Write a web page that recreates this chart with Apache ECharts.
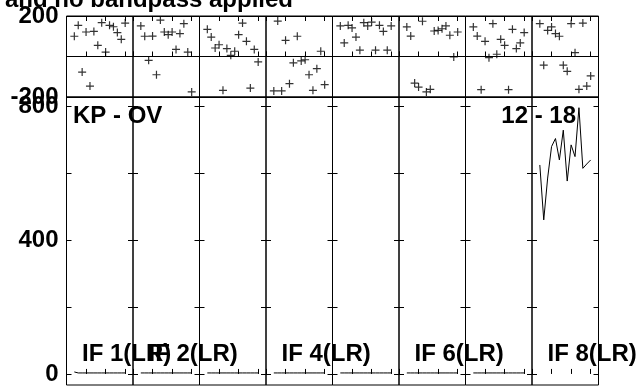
<!DOCTYPE html>
<html><head><meta charset="utf-8">
<script src="https://cdn.jsdelivr.net/npm/echarts@6/dist/echarts.min.js"></script>
<style>html,body{margin:0;padding:0;background:#fff;overflow:hidden}#c{width:638px;height:389px}</style>
</head><body><div id="c"></div><script>
// ---- data ----
const channels = [2,3,4,5,6,7,8,9,10,11,12,13,14,15];
const ifNames = ['IF 1(LR)','IF 2(LR)','IF 3(LR)','IF 4(LR)','IF 5(LR)','IF 6(LR)','IF 7(LR)','IF 8(LR)'];
const shownIfLabels = [0,1,3,5,7];
const phaseIF1 = [100,154,-77,121,-146,124,55,167,22,154,147,118,85,165];
const phaseIF2 = [151,100,-19,101,-90,180,121,108,121,35,113,162,22,-175];
const phaseIF3 = [134,96,42,58,-167,39,6,26,108,165,75,-156,35,-27];
const phaseIF4 = [-170,175,-170,80,-134,-31,100,-22,-16,-90,-167,-60,26,-139];
const phaseIF5 = [151,67,154,141,96,31,167,151,170,31,154,124,31,151];
const phaseIF6 = [146,101,-131,-151,174,-175,-162,126,129,137,151,105,-2,121];
const phaseIF7 = [146,101,-164,75,-6,162,11,85,55,-164,134,39,67,118];
const phaseIF8 = [162,-43,129,146,113,100,-43,-73,162,19,-162,165,-146,-96];
const ampIF1 = [6,3,3,3,3,3,3,3,3,3,3,3,3,3];
const ampIF2 = [3,3,3,3,3,3,3,3,3,3,3,3,3,3];
const ampIF3 = [3,3,3,3,3,3,3,3,3,3,3,3,3,3];
const ampIF4 = [3,3,3,3,3,3,3,3,3,3,3,3,3,3];
const ampIF5 = [3,3,3,3,3,3,3,3,3,3,3,3,3,3];
const ampIF6 = [3,3,3,3,3,3,3,3,3,3,3,3,3,3];
const ampIF7 = [3,3,3,3,3,3,3,3,3,3,3,3,3,3];
const ampIF8 = [624,460,585,679,703,639,728,576,684,649,795,614,627,639];
const phaseTicks = [-200,200];
const ampTickValues = [0,200,400,600,800];
const ampLabelValues = [0,400,800];
const baselineText = 'KP - OV';
const timeText = '12 - 18';
const titleText = 'Calibration applied and no bandpass applied';

const phases = [phaseIF1,phaseIF2,phaseIF3,phaseIF4,phaseIF5,phaseIF6,phaseIF7,phaseIF8];
const amps = [ampIF1,ampIF2,ampIF3,ampIF4,ampIF5,ampIF6,ampIF7,ampIF8];

// ---- layout ----
const FONT = 'bold 24px "Liberation Sans", Arial, sans-serif';
const PL = 66.5, PW = 66.5, PH_TOP = 16, PH_H = 81, AMP_TOP = 97, AMP_H = 288;
const AMP_MIN = -33, AMP_MAX = 827;
const grid = [], xAxis = [], yAxis = [], series = [];
const tickStyle = {show:true, inside:true, length:5, lineStyle:{color:'#000', width:1}};
const labelStyle = {color:'#000', fontSize:24, fontWeight:'bold', fontFamily:'"Liberation Sans", Arial, sans-serif', margin:8};

for (let i = 0; i < 8; i++) {
  const left = PL + i*PW;
  // phase grid
  const gp = grid.length;
  grid.push({left:left, top:PH_TOP, width:PW, height:PH_H, show:true, borderColor:'#000', borderWidth:1, backgroundColor:'transparent'});
  const xpB = xAxis.length;
  xAxis.push({type:'value', gridIndex:gp, position:'bottom', min:0, max:17, interval:5,
    axisLine:{show:false}, axisTick:tickStyle, axisLabel:{show:false}, splitLine:{show:false}});
  xAxis.push({type:'value', gridIndex:gp, position:'top', min:0, max:17, interval:5,
    axisLine:{show:false}, axisTick:tickStyle, axisLabel:{show:false}, splitLine:{show:false}});
  const yp = yAxis.length;
  yAxis.push({type:'value', gridIndex:gp, min:-200, max:200, interval:200,
    axisLine:{show:false}, axisTick:{show:false},
    axisLabel: i===0 ? Object.assign({}, labelStyle, {formatter: v => phaseTicks.indexOf(v) >= 0 ? String(v) : ''}) : {show:false},
    splitLine:{show:true, lineStyle:{color:'#000', width:1}}});
  series.push({type:'scatter', xAxisIndex:xpB, yAxisIndex:yp,
    data: channels.map((c,k) => [c, phases[i][k]]),
    symbol:'path://M5,0L5,10M0,5L10,5', symbolSize:8,
    itemStyle:{color:'transparent', borderColor:'#000', borderWidth:1.2}, silent:true, animation:false});
  // amplitude grid
  const ga = grid.length;
  grid.push({left:left, top:AMP_TOP, width:PW, height:AMP_H, show:true, borderColor:'#000', borderWidth:1, backgroundColor:'transparent'});
  const xa = xAxis.length;
  xAxis.push({type:'value', gridIndex:ga, position:'bottom', min:0, max:17, interval:5,
    axisLine:{show:false}, axisTick:tickStyle, axisLabel:{show:false}, splitLine:{show:false}});
  const ya = yAxis.length;
  yAxis.push({type:'value', gridIndex:ga, position:'left', min:AMP_MIN, max:AMP_MAX,
    axisLine:{show:false}, axisTick:Object.assign({}, tickStyle, {customValues:ampTickValues}),
    axisLabel: i===0 ? Object.assign({}, labelStyle, {customValues:ampLabelValues}) : {show:false},
    splitLine:{show:false}});
  yAxis.push({type:'value', gridIndex:ga, position:'right', min:AMP_MIN, max:AMP_MAX,
    axisLine:{show:false}, axisTick:Object.assign({}, tickStyle, {customValues:ampTickValues}),
    axisLabel:{show:false}, splitLine:{show:false}});
  series.push({type:'line', xAxisIndex:xa, yAxisIndex:ya,
    data: channels.map((c,k) => [c, amps[i][k]]),
    showSymbol:false, symbol:'none', lineStyle:{color:'#000', width:1}, silent:true, animation:false});
}

const graphic = [
  {type:'text', style:{text:titleText, x:293, y:12, align:'right', verticalAlign:'bottom', font:FONT, fill:'#000'}},
  {type:'text', style:{text:baselineText, x:73, y:116, align:'left', verticalAlign:'middle', font:FONT, fill:'#000'}},
  {type:'text', style:{text:timeText, x:576, y:116, align:'right', verticalAlign:'middle', font:FONT, fill:'#000'}}
];
shownIfLabels.forEach(i => {
  graphic.push({type:'text', style:{text:ifNames[i], x:82 + i*PW, y:354, align:'left', verticalAlign:'middle', font:FONT, fill:'#000'}});
});

const chart = echarts.init(document.getElementById('c'), null, {renderer:'canvas'});
chart.setOption({animation:false, backgroundColor:'#fff', grid, xAxis, yAxis, series, graphic});
</script></body></html>
